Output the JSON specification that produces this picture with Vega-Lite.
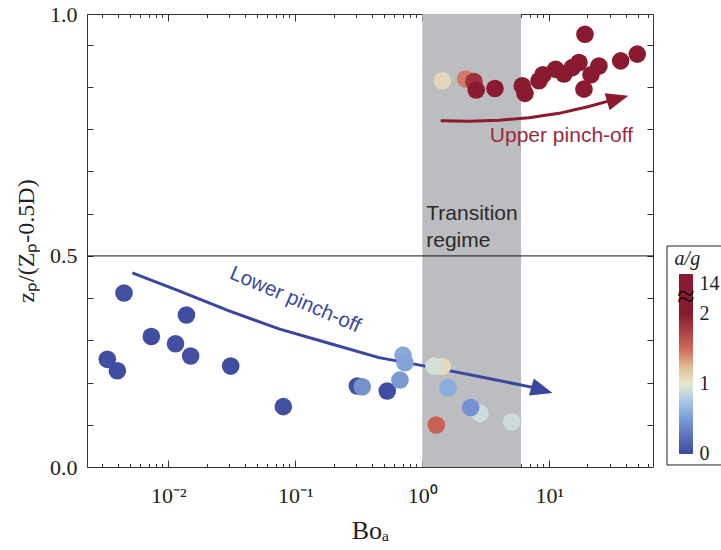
{
  "$schema": "https://vega.github.io/schema/vega-lite/v6.json",
  "background": "white",
  "padding": {"left": 14, "top": 2, "right": 0, "bottom": 0},
  "bounds": "flush",
  "spacing": 26,
  "config": {
    "font": "Liberation Serif",
    "axis": {"grid": false, "domain": false, "tickColor": "#333333", "tickWidth": 1, "labelColor": "#222222", "titleColor": "#222222", "labelFont": "Liberation Serif", "titleFont": "Liberation Serif", "titleFontWeight": "normal"}
  },
  "datasets": {
    "runs": [
      {"bo": 0.00331, "z": 0.255, "ag": 0.02},
      {"bo": 0.00397, "z": 0.228, "ag": 0.02},
      {"bo": 0.00448, "z": 0.412, "ag": 0.03},
      {"bo": 0.00735, "z": 0.309, "ag": 0.02},
      {"bo": 0.0114, "z": 0.292, "ag": 0.03},
      {"bo": 0.0139, "z": 0.36, "ag": 0.02},
      {"bo": 0.015, "z": 0.263, "ag": 0.03},
      {"bo": 0.031, "z": 0.239, "ag": 0.02},
      {"bo": 0.0805, "z": 0.143, "ag": 0.03},
      {"bo": 0.308, "z": 0.192, "ag": 0.03},
      {"bo": 0.337, "z": 0.19, "ag": 0.45},
      {"bo": 0.53, "z": 0.18, "ag": 0.02},
      {"bo": 0.667, "z": 0.206, "ag": 0.5},
      {"bo": 0.705, "z": 0.265, "ag": 0.58},
      {"bo": 0.731, "z": 0.247, "ag": 0.55},
      {"bo": 1.437, "z": 0.238, "ag": 1.08},
      {"bo": 1.236, "z": 0.239, "ag": 0.93},
      {"bo": 1.594, "z": 0.188, "ag": 0.6},
      {"bo": 2.85, "z": 0.127, "ag": 0.9},
      {"bo": 2.405, "z": 0.141, "ag": 0.45},
      {"bo": 5.06, "z": 0.107, "ag": 0.9},
      {"bo": 1.289, "z": 0.0995, "ag": 1.55},
      {"bo": 1.437, "z": 0.915, "ag": 1.1},
      {"bo": 2.197, "z": 0.919, "ag": 1.45},
      {"bo": 2.553, "z": 0.913, "ag": 1.85},
      {"bo": 2.66, "z": 0.893, "ag": 4},
      {"bo": 3.736, "z": 0.8965, "ag": 5},
      {"bo": 6.13, "z": 0.903, "ag": 6},
      {"bo": 6.44, "z": 0.885, "ag": 8},
      {"bo": 8.3, "z": 0.915, "ag": 5},
      {"bo": 8.92, "z": 0.929, "ag": 7},
      {"bo": 11.23, "z": 0.942, "ag": 9},
      {"bo": 13.05, "z": 0.931, "ag": 10},
      {"bo": 15.17, "z": 0.946, "ag": 8},
      {"bo": 17.13, "z": 0.958, "ag": 12},
      {"bo": 18.76, "z": 0.895, "ag": 6},
      {"bo": 19.1, "z": 1.025, "ag": 14},
      {"bo": 21.3, "z": 0.929, "ag": 11},
      {"bo": 24.62, "z": 0.95, "ag": 9},
      {"bo": 36.5, "z": 0.962, "ag": 13},
      {"bo": 49.3, "z": 0.978, "ag": 14}
    ],
    "lowerTrend": [
      {"bo": 0.00521, "z": 0.46},
      {"bo": 0.01214, "z": 0.417},
      {"bo": 0.0301, "z": 0.37},
      {"bo": 0.0744, "z": 0.327},
      {"bo": 0.184, "z": 0.293},
      {"bo": 0.456, "z": 0.259},
      {"bo": 1.354, "z": 0.233},
      {"bo": 3.35, "z": 0.2097},
      {"bo": 7.58, "z": 0.188}
    ],
    "upperTrend": [
      {"bo": 1.396, "z": 0.82},
      {"bo": 2.33, "z": 0.8187},
      {"bo": 4.02, "z": 0.8216},
      {"bo": 6.92, "z": 0.827},
      {"bo": 11.92, "z": 0.8377},
      {"bo": 20.5, "z": 0.854},
      {"bo": 30.6, "z": 0.8685}
    ],
    "transition": [{"lo": 1, "hi": 6}]
  },
  "hconcat": [
    {
      "width": 566,
      "height": 453,
      "view": {"stroke": "#333333", "strokeWidth": 1},
      "resolve": {"axis": {"x": "independent", "y": "independent"}},
      "layer": [
        {
          "data": {"name": "transition"},
          "mark": {"type": "rect", "color": "#bcbdc1"},
          "encoding": {
            "x": {"field": "lo", "type": "quantitative", "scale": {"type": "log", "domain": [0.00229, 65.6], "nice": false},
              "axis": {"orient": "bottom", "values": [0.003, 0.004, 0.005, 0.006, 0.007, 0.008, 0.009, 0.02, 0.03, 0.04, 0.05, 0.06, 0.07, 0.08, 0.09, 0.2, 0.3, 0.4, 0.5, 0.6, 0.7, 0.8, 0.9, 2, 3, 4, 5, 6, 7, 8, 9, 20, 30, 40, 50, 60], "tickSize": 3.5, "offset": -3.5, "labels": false, "title": null}},
            "x2": {"field": "hi"}
          }
        },
        {
          "data": {"values": [{}]},
          "mark": {"type": "rule", "color": "#111111", "strokeWidth": 1},
          "encoding": {
            "y": {"datum": 0.5, "type": "quantitative", "scale": {"domain": [0, 1.073], "nice": false, "zero": false},
              "axis": {"orient": "right", "values": [0.1, 0.2, 0.3, 0.4, 0.5, 0.6, 0.7, 0.8, 0.9, 1.0], "tickSize": 6, "offset": -6, "labels": false, "title": null}}
          }
        },
        {
          "data": {"name": "lowerTrend"},
          "mark": {"type": "line", "color": "#3a46a0", "strokeWidth": 3},
          "encoding": {
            "x": {"field": "bo", "type": "quantitative", "scale": {"type": "log", "domain": [0.00229, 65.6], "nice": false},
              "axis": {"orient": "top", "values": [0.01, 0.1, 1, 10], "tickSize": 7, "offset": -7, "labels": false, "title": null}},
            "y": {"field": "z", "type": "quantitative", "axis": null}
          }
        },
        {
          "data": {"name": "upperTrend"},
          "mark": {"type": "line", "color": "#8c1a2e", "strokeWidth": 3},
          "encoding": {
            "x": {"field": "bo", "type": "quantitative",
              "axis": {"orient": "top", "values": [0.003, 0.004, 0.005, 0.006, 0.007, 0.008, 0.009, 0.02, 0.03, 0.04, 0.05, 0.06, 0.07, 0.08, 0.09, 0.2, 0.3, 0.4, 0.5, 0.6, 0.7, 0.8, 0.9, 2, 3, 4, 5, 6, 7, 8, 9, 20, 30, 40, 50, 60], "tickSize": 3.5, "offset": -3.5, "labels": false, "title": null}},
            "y": {"field": "z", "type": "quantitative", "axis": null}
          }
        },
        {
          "data": {"values": [{}]},
          "mark": {"type": "point", "shape": "M-1,-0.8L1,0L-1,0.8Z", "filled": true, "opacity": 1, "size": 484, "angle": 16, "color": "#3a46a0"},
          "encoding": {
            "x": {"datum": 8.76, "type": "quantitative", "axis": null},
            "y": {"datum": 0.1825, "type": "quantitative", "axis": null}
          }
        },
        {
          "data": {"values": [{}]},
          "mark": {"type": "point", "shape": "M-1,-0.8L1,0L-1,0.8Z", "filled": true, "opacity": 1, "size": 484, "angle": -16, "color": "#8c1a2e"},
          "encoding": {
            "x": {"datum": 34.6, "type": "quantitative", "axis": null},
            "y": {"datum": 0.8723, "type": "quantitative", "axis": null}
          }
        },
        {
          "data": {"name": "runs"},
          "mark": {"type": "circle", "size": 310, "opacity": 1},
          "encoding": {
            "x": {"field": "bo", "type": "quantitative",
              "axis": {"orient": "bottom", "values": [0.01, 0.1, 1, 10], "tickSize": 7, "offset": -7, "labelPadding": 18, "labelFontSize": 22,
                "labelExpr": "datum.value < 0.05 ? '10⁻²' : datum.value < 0.5 ? '10⁻¹' : datum.value < 5 ? '10⁰' : '10¹'",
                "title": "Boₐ", "titleFontSize": 26, "titlePadding": 11}},
            "y": {"field": "z", "type": "quantitative",
              "axis": {"orient": "left", "values": [0, 0.1, 0.2, 0.3, 0.4, 0.5, 0.6, 0.7, 0.8, 0.9, 1.0, 1.073], "tickSize": 6, "offset": -6, "labelPadding": 10, "labelFontSize": 22,
                "labelExpr": "datum.value == 0 ? '0.0' : datum.value == 0.5 ? '0.5' : datum.value > 1.05 ? '1.0' : ''",
                "title": "zₚ/(Zₚ-0.5D)", "titleFontSize": 24, "titlePadding": 11}},
            "color": {"field": "ag", "type": "quantitative", "legend": null,
              "scale": {"domain": [0, 0.5, 0.75, 1, 1.25, 1.5, 2], "range": ["#3f4a9e", "#7a9ad6", "#a8c8e6", "#e6e8d2", "#e0bc94", "#d0685a", "#8a1a2f"], "interpolate": "rgb", "clamp": true}}
          }
        },
        {
          "data": {"values": [{}]},
          "mark": {"type": "text", "text": ["Transition", "regime"], "font": "Liberation Sans", "fontSize": 21, "color": "#2a2a2a", "align": "left", "baseline": "middle", "lineHeight": 27, "dx": 4},
          "encoding": {
            "x": {"datum": 1, "type": "quantitative", "axis": null},
            "y": {"datum": 0.6, "type": "quantitative", "axis": null}
          }
        },
        {
          "data": {"values": [{}]},
          "mark": {"type": "text", "text": "Lower pinch-off", "font": "Liberation Sans", "fontSize": 20.5, "color": "#3b47a3", "align": "center", "baseline": "middle", "angle": 23},
          "encoding": {
            "x": {"datum": 0.1, "type": "quantitative", "axis": null},
            "y": {"datum": 0.396, "type": "quantitative", "axis": null}
          }
        },
        {
          "data": {"values": [{}]},
          "mark": {"type": "text", "text": "Upper pinch-off", "font": "Liberation Sans", "fontSize": 21, "color": "#9a2a3e", "align": "center", "baseline": "middle"},
          "encoding": {
            "x": {"datum": 12.47, "type": "quantitative", "axis": null},
            "y": {"datum": 0.784, "type": "quantitative", "axis": null}
          }
        }
      ]
    },
    {
      "width": 14,
      "height": 453,
      "view": {"stroke": null},
      "layer": [
        {
          "data": {"values": [{}]},
          "mark": {"type": "rect", "fill": "transparent", "stroke": "#222222", "strokeWidth": 1},
          "encoding": {
            "x": {"datum": -0.857, "type": "quantitative", "scale": {"domain": [0, 1], "nice": false, "zero": false}, "axis": null},
            "x2": {"datum": 4},
            "y": {"datum": -0.157, "type": "quantitative", "scale": {"domain": [-0.186, 6.286], "nice": false, "zero": false},
              "axis": {"orient": "right", "values": [0, 1, 2, 2.429], "ticks": false, "domain": false, "labelPadding": 6, "labelFontSize": 20, "labelAlign": "left",
                "labelExpr": "datum.value > 2.2 ? '14' : format(datum.value, 'd')", "title": null}},
            "y2": {"datum": 2.971}
          }
        },
        {
          "data": {"values": [{}]},
          "mark": {"type": "rect", "color": {"gradient": "linear", "x1": 0, "y1": 1, "x2": 0, "y2": 0,
            "stops": [
              {"offset": 0, "color": "#3f4a9e"},
              {"offset": 0.25, "color": "#7a9ad6"},
              {"offset": 0.375, "color": "#a8c8e6"},
              {"offset": 0.5, "color": "#e6e8d2"},
              {"offset": 0.625, "color": "#e0bc94"},
              {"offset": 0.75, "color": "#d0685a"},
              {"offset": 1, "color": "#8a1a2f"}
            ]}},
          "encoding": {
            "x": {"datum": 0, "type": "quantitative"},
            "x2": {"datum": 1},
            "y": {"datum": 0, "type": "quantitative"},
            "y2": {"datum": 2}
          }
        },
        {
          "data": {"values": [{}]},
          "mark": {"type": "rect", "color": "#8a1a2f"},
          "encoding": {
            "x": {"datum": 0, "type": "quantitative"},
            "x2": {"datum": 1},
            "y": {"datum": 1.99, "type": "quantitative"},
            "y2": {"datum": 2.571}
          }
        },
        {
          "data": {"values": [{}]},
          "mark": {"type": "text", "text": "≈", "fontSize": 32, "color": "#111111", "align": "center", "baseline": "middle"},
          "encoding": {
            "x": {"datum": 0.5, "type": "quantitative"},
            "y": {"datum": 2.243, "type": "quantitative"}
          }
        },
        {
          "data": {"values": [{}]},
          "mark": {"type": "text", "text": "a/g", "fontSize": 20, "fontStyle": "italic", "color": "#222222", "align": "center", "baseline": "middle"},
          "encoding": {
            "x": {"datum": 0.6, "type": "quantitative"},
            "y": {"datum": 2.786, "type": "quantitative"}
          }
        }
      ]
    }
  ]
}
